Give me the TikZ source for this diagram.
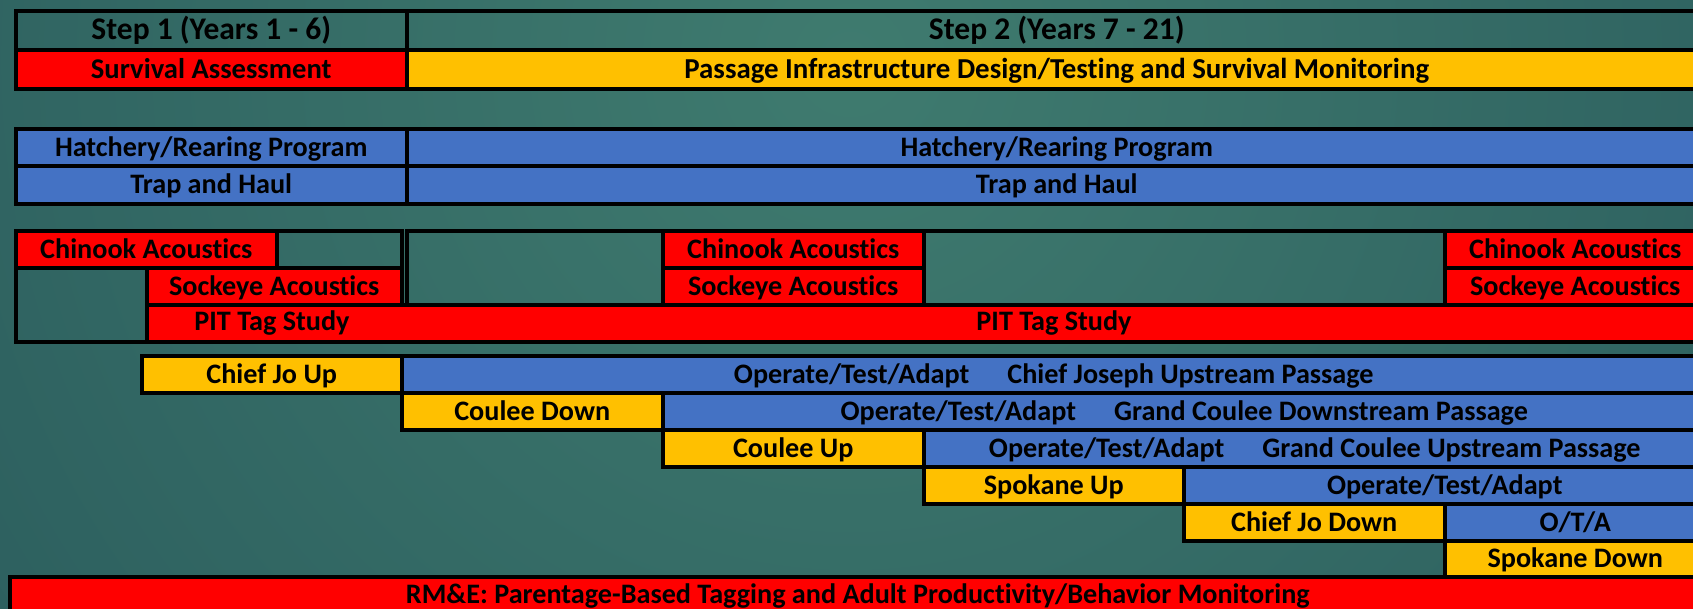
\documentclass[tikz,border=0pt]{standalone}
\usepackage{fontspec}
\newfontfamily\barfont[Ligatures=NoCommon]{Carlito}
\definecolor{barred}{HTML}{FF0000}
\definecolor{baryellow}{HTML}{FFC000}
\definecolor{barblue}{HTML}{4472C4}
\definecolor{bginner}{HTML}{3F7B6F}
\definecolor{bgouter}{HTML}{1C4650}
\tikzset{
  cell/.style={draw=black, line width=3.5pt, anchor=north west, inner sep=0pt,
    font=\barfont\bfseries\fontsize{28.2}{30}\selectfont, text=black,
    text height=24pt, text depth=6pt},
  lbl/.style={inner sep=0pt, font=\barfont\bfseries\fontsize{28.2}{30}\selectfont,
    text=black, text height=24pt, text depth=6pt},
  head/.style={font=\barfont\bfseries\fontsize{31.5}{33}\selectfont},
  red/.style={fill=barred}, yel/.style={fill=baryellow}, blu/.style={fill=barblue}
}
\newcommand{\gapsep}{\hspace{38pt}}
\begin{document}
\begin{tikzpicture}[x=1pt,y=-1pt]
\useasboundingbox (0,0) rectangle (1693,608);
\clip (0,0) rectangle (1693,608);
% background
\shade[inner color=bginner, outer color=bgouter] (850,60) circle (2000);

% steps
\node[cell, head, minimum width=391pt, minimum height=39pt] (s1) at (14,9) {Step 1 (Years 1 - 6)};
\node[cell, head, minimum width=1300pt, minimum height=39pt] (s2) at (405,9) {Step 2 (Years 7 - 21)};
\node[cell, red, minimum width=391pt, minimum height=39pt, font=\barfont\bfseries\fontsize{28.6}{30}\selectfont] (surv) at (14,48) {Survival Assessment};
\node[cell, yel, minimum width=1300pt, minimum height=39pt, font=\barfont\bfseries\fontsize{28.9}{30}\selectfont] (pass) at (405,48) {Passage Infrastructure Design/Testing and Survival Monitoring};

% hatchery and trap
\node[cell, blu, minimum width=391pt, minimum height=37pt] (hat1) at (14,127) {Hatchery/Rearing Program};
\node[cell, blu, minimum width=1300pt, minimum height=37pt] (hat2) at (405,127) {Hatchery/Rearing Program};
\node[cell, blu, minimum width=391pt, minimum height=38pt] (trap1) at (14,164) {Trap and Haul};
\node[cell, blu, minimum width=1300pt, minimum height=38pt] (trap2) at (405,164) {Trap and Haul};

% acoustics and PIT tags
\node[cell, red, minimum width=261pt, minimum height=37pt] (chin1) at (14,229) {Chinook Acoustics};
\node[cell, minimum width=125pt, minimum height=37pt] (gapA) at (275,229) {};
\node[cell, minimum width=131pt, minimum height=74pt] (gapB) at (14,266) {};
\node[cell, red, minimum width=255pt, minimum height=37pt] (sock1) at (145,266) {Sockeye Acoustics};
\node[cell, minimum width=256pt, minimum height=74pt] (gapC) at (405,229) {};
\node[cell, red, minimum width=261pt, minimum height=37pt] (chin2) at (661,229) {Chinook Acoustics};
\node[cell, red, minimum width=261pt, minimum height=37pt] (sock2) at (661,266) {Sockeye Acoustics};
\node[cell, minimum width=521pt, minimum height=74pt] (gapD) at (922,229) {};
\node[cell, red, minimum width=261pt, minimum height=37pt] (chin3) at (1443,229) {Chinook Acoustics};
\node[cell, red, minimum width=261pt, minimum height=37pt] (sock3) at (1443,266) {Sockeye Acoustics};
\node[cell, red, minimum width=1559pt, minimum height=37pt] (pit) at (145,303) {};
\node[lbl] (pitA) at (272,321.5) {PIT Tag Study};
\node[lbl] (pitB) at (1054,321.5) {PIT Tag Study};

% passage schedule
\node[cell, yel, minimum width=260pt, minimum height=37pt] (cju) at (140,354) {Chief Jo Up};
\node[cell, blu, minimum width=1304pt, minimum height=37pt] (ota1) at (400,354) {Operate/Test/Adapt\gapsep Chief Joseph Upstream Passage};
\node[cell, yel, minimum width=261pt, minimum height=37pt] (cd) at (400,391) {Coulee Down};
\node[cell, blu, minimum width=1043pt, minimum height=37pt] (ota2) at (661,391) {Operate/Test/Adapt\gapsep Grand Coulee Downstream Passage};
\node[cell, yel, minimum width=261pt, minimum height=37pt] (cu) at (661,428) {Coulee Up};
\node[cell, blu, minimum width=782pt, minimum height=37pt] (ota3) at (922,428) {Operate/Test/Adapt\gapsep Grand Coulee Upstream Passage};
\node[cell, yel, minimum width=260pt, minimum height=37pt] (su) at (922,465) {Spokane Up};
\node[cell, blu, minimum width=522pt, minimum height=37pt] (ota4) at (1182,465) {Operate/Test/Adapt};
\node[cell, yel, minimum width=261pt, minimum height=37pt] (cjd) at (1182,502) {Chief Jo Down};
\node[cell, blu, minimum width=261pt, minimum height=37pt] (ota5) at (1443,502) {O/T/A};
\node[cell, yel, minimum width=261pt, minimum height=36pt] (sd) at (1443,539) {Spokane Down};

% monitoring
\node[cell, red, minimum width=1696pt, minimum height=36pt] (rme) at (8,575) {RM\&E: Parentage-Based Tagging and Adult Productivity/Behavior Monitoring};
\end{tikzpicture}
\end{document}
